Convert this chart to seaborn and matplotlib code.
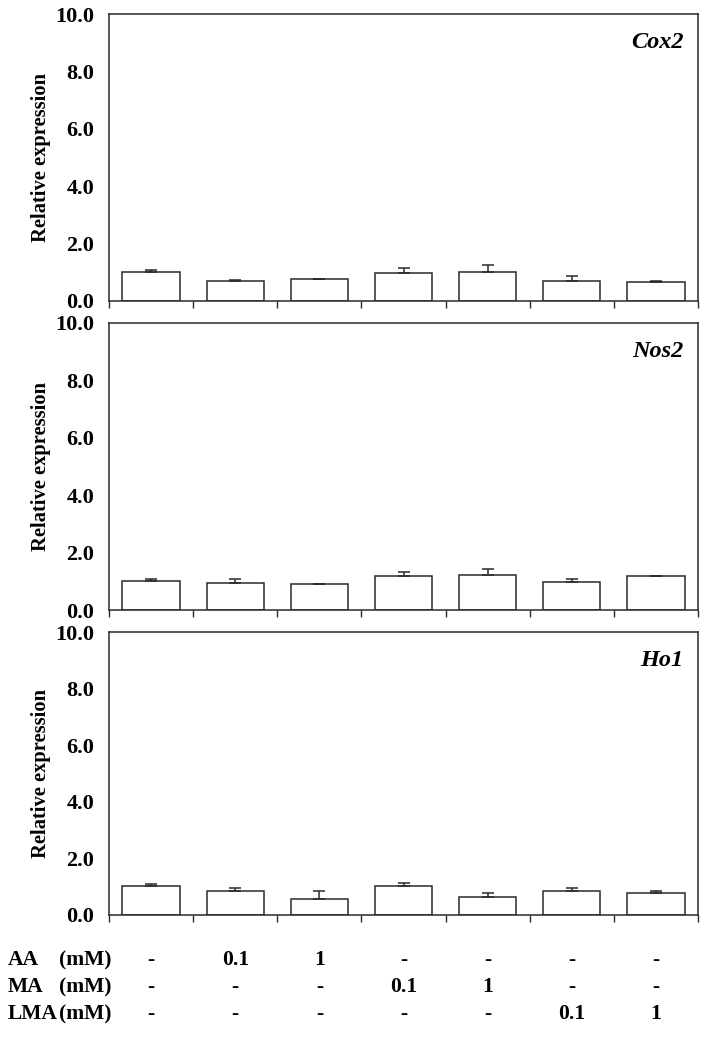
import numpy as np
import pandas as pd
import matplotlib
matplotlib.use("Agg")
import matplotlib.pyplot as plt
import matplotlib.transforms as mtransforms
import seaborn as sns

# ---- data ----
groups = ["G1", "G2", "G3", "G4", "G5", "G6", "G7"]
genes = ["Cox2", "Nos2", "Ho1"]
cox2 = [1.00, 0.71, 0.77, 0.97, 1.01, 0.71, 0.67]
cox2_err = [0.08, 0.03, 0.0, 0.18, 0.24, 0.16, 0.03]
nos2 = [1.00, 0.93, 0.92, 1.20, 1.22, 0.97, 1.18]
nos2_err = [0.08, 0.14, 0.0, 0.14, 0.21, 0.10, 0.0]
ho1 = [1.01, 0.86, 0.58, 1.02, 0.63, 0.86, 0.78]
ho1_err = [0.08, 0.10, 0.27, 0.10, 0.15, 0.08, 0.07]

row_names = ["AA", "MA", "LMA"]
aa_doses = ["-", "0.1", "1", "-", "-", "-", "-"]
ma_doses = ["-", "-", "-", "0.1", "1", "-", "-"]
lma_doses = ["-", "-", "-", "-", "-", "0.1", "1"]
yticks = [0, 2, 4, 6, 8, 10]

values = {"Cox2": cox2, "Nos2": nos2, "Ho1": ho1}
errors = {"Cox2": cox2_err, "Nos2": nos2_err, "Ho1": ho1_err}

sns.set_theme(style="white")
plt.rcParams["font.family"] = ["Liberation Serif", "DejaVu Serif"]
plt.rcParams["font.weight"] = "bold"
plt.rcParams["text.color"] = "black"
plt.rcParams["axes.labelcolor"] = "black"
plt.rcParams["ytick.labelcolor"] = "black"

W, H = 708, 1037
fig = plt.figure(figsize=(W / 100, H / 100), dpi=100)

# axes boxes in pixel coords (left, top, right, bottom)
boxes = [(109, 14, 698, 301), (109, 323, 698, 610), (109, 632, 698, 915)]
line_col = "#2a2a2a"
axes = []
for gene, (l, t, r, b) in zip(genes, boxes):
    ax = fig.add_axes([l / W, 1 - b / H, (r - l) / W, (b - t) / H])
    df = pd.DataFrame({"group": groups, "value": values[gene]})
    sns.barplot(data=df, x="group", y="value", ax=ax, color="white",
                edgecolor=line_col, linewidth=1.1, width=0.68, errorbar=None,
                saturation=1)
    xs = [p.get_x() + p.get_width() / 2 for p in ax.patches]
    hs = [p.get_height() for p in ax.patches]
    err = errors[gene]
    ax.errorbar(xs, hs, yerr=[np.zeros(len(err)), err], fmt="none",
                ecolor=line_col, elinewidth=1.1, capsize=4, capthick=1.1)
    ax.set_ylim(0, 10)
    ax.set_xlim(-0.5, len(groups) - 0.5)
    ax.set_yticks(yticks)
    ax.set_yticklabels([f"{v:.1f}" for v in yticks], fontsize=16, fontweight="bold",
                       color="black")
    ax.set_xticks(np.arange(-0.5, len(groups), 1.0))
    ax.set_xticklabels([])
    ax.tick_params(axis="y", direction="in", length=4, width=1, color=line_col, pad=10.5)
    ax.tick_params(axis="x", direction="out", length=5, width=1, color=line_col, bottom=True)
    ax.set_xlabel("")
    ax.set_ylabel("Relative expression", fontsize=14.8, fontweight="bold", labelpad=3,
                  color="black")
    for s in ax.spines.values():
        s.set_visible(True)
        s.set_color(line_col)
        s.set_linewidth(1.1)
    ax.text(0.975, 0.9, gene, transform=ax.transAxes, ha="right", va="center",
            fontsize=17.5, fontstyle="italic", fontweight="bold", color="black")
    axes.append(ax)

# treatment table below last axis
ax3 = axes[-1]
trans = mtransforms.blended_transform_factory(ax3.transData, fig.transFigure)
row_y = [960, 987, 1014]
for name, doses, y in zip(row_names, [aa_doses, ma_doses, lma_doses], row_y):
    fy = 1 - y / H
    fig.text(8 / W, fy, name, ha="left", va="center", fontsize=15.5, fontweight="bold")
    fig.text(111 / W, fy, "(mM)", ha="right", va="center", fontsize=15.5, fontweight="bold")
    for i, d in enumerate(doses):
        ax3.text(i, fy, d, transform=trans, ha="center", va="center",
                 fontsize=15.5, fontweight="bold", clip_on=False)

fig.savefig("out.png", dpi=100, facecolor="white")
